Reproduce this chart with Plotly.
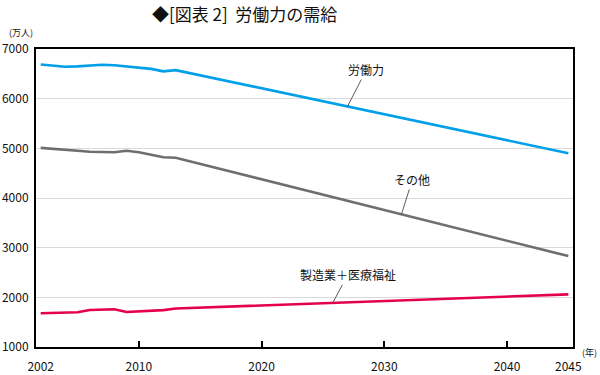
import numpy as np
import plotly.graph_objects as go

# ---- data (万人) ----
years = [2002, 2003, 2004, 2005, 2006, 2007, 2008, 2009, 2010, 2011, 2012, 2013, 2045]
labour = [6689, 6666, 6642, 6650, 6664, 6684, 6674, 6650, 6632, 6600, 6550, 6575, 4900]
other = [5010, 4985, 4960, 4950, 4930, 4930, 4920, 4950, 4920, 4870, 4820, 4810, 2830]
mfg_med = [1680, 1682, 1685, 1700, 1745, 1760, 1760, 1705, 1715, 1725, 1742, 1775, 2060]

series_names = ["労働力", "その他", "製造業＋医療福祉"]
series_colors = ["#00a0e9", "#6e6e6e", "#e5004f"]
label_years = [2027.0, 2031.4, 2025.8]
label_offsets = [(19, -37), (11, -35), (15, -28)]

x_ticks = [2002, 2010, 2020, 2030, 2040, 2045]
x_marks = [2010, 2020, 2030, 2040]
y_ticks = [1000, 2000, 3000, 4000, 5000, 6000, 7000]

FONT = "Noto Sans CJK JP"

fig = go.Figure()
all_series = [labour, other, mfg_med]
for name, vals, col in zip(series_names, all_series, series_colors):
    fig.add_trace(go.Scatter(x=years, y=vals, mode="lines", name=name,
                             line=dict(color=col, width=2.6), showlegend=False,
                             hoverinfo="skip"))

annotations = []
for name, vals, lx, (ax, ay) in zip(series_names, all_series, label_years, label_offsets):
    ly = float(np.interp(lx, years, vals))
    annotations.append(dict(x=lx, y=ly, xref="x", yref="y", text=name,
                            showarrow=True, arrowhead=0, arrowwidth=0.8,
                            arrowcolor="#333333", ax=ax, ay=ay, standoff=0,
                            font=dict(family=FONT, size=12, color="#111111")))

annotations += [
    dict(text="◆[図表 2]  労働力の需給", xref="paper", yref="paper", x=0.389, y=1.12,
         xanchor="center", yanchor="middle", showarrow=False,
         font=dict(family=FONT, size=17, color="#111111")),
    dict(text="(万人)", xref="paper", yref="paper", x=-0.028, y=1.057,
         xanchor="center", yanchor="middle", showarrow=False,
         font=dict(family=FONT, size=9, color="#111111")),
    dict(text="(年)", xref="paper", yref="paper", x=1.031, y=-0.017,
         xanchor="center", yanchor="middle", showarrow=False,
         font=dict(family=FONT, size=9, color="#111111")),
]

fig.update_layout(
    width=600, height=375,
    margin=dict(l=36, r=27, t=49, b=28, autoexpand=False),
    paper_bgcolor="white", plot_bgcolor="white",
    font=dict(family=FONT, size=12, color="#111111"),
    annotations=annotations,
)
fig.update_xaxes(range=[2001.617, 2045.38], tickvals=x_ticks,
                 ticktext=[str(v) for v in x_ticks], ticks="",
                 showgrid=False, zeroline=False, automargin=False,
                 showline=True, linecolor="black", linewidth=2, mirror=True,
                 ticklabelstandoff=8,
                 tickfont=dict(family=FONT, size=12, color="#111111"),
                 minor=dict(tickvals=x_marks, ticks="inside", ticklen=6,
                            tickwidth=2, tickcolor="black", showgrid=False))
fig.update_yaxes(range=[1000, 7000], tickvals=y_ticks, ticks="",
                 showgrid=True, gridcolor="#d9d9d9", gridwidth=1, zeroline=False,
                 automargin=False,
                 showline=True, linecolor="black", linewidth=2, mirror=True,
                 ticklabelstandoff=3,
                 tickfont=dict(family=FONT, size=12, color="#111111"))

fig.write_html("out.html", config={"displayModeBar": False},
               post_script="document.body.style.margin='0';document.body.style.overflow='hidden';")
